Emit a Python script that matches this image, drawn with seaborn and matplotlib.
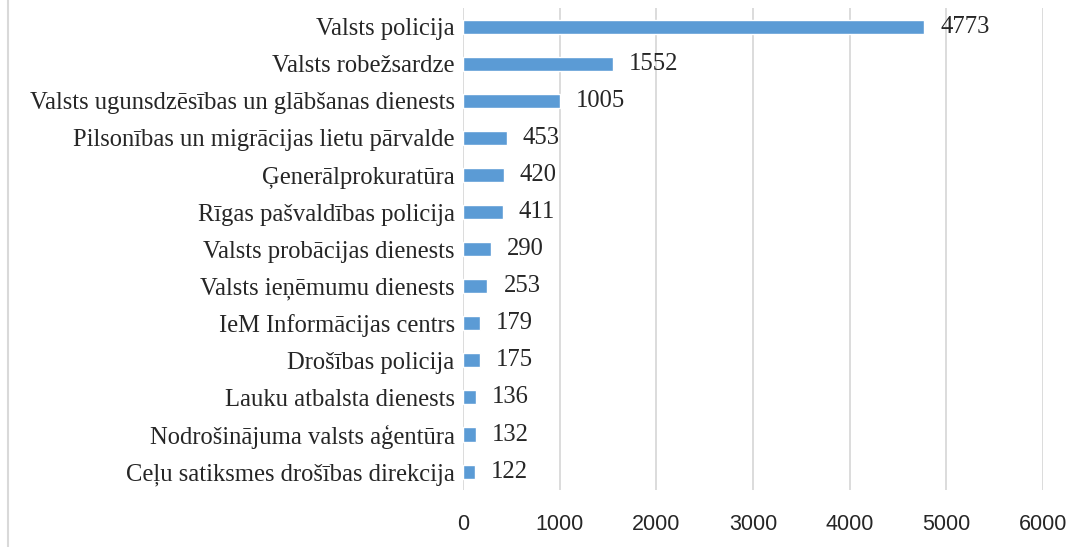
import matplotlib
matplotlib.use('Agg')
import matplotlib.pyplot as plt
from matplotlib.lines import Line2D
import seaborn as sns
import pandas as pd

# dati
iestades = ['Valsts policija', 'Valsts robežsardze',
            'Valsts ugunsdzēsības un glābšanas dienests',
            'Pilsonības un migrācijas lietu pārvalde', 'Ģenerālprokuratūra',
            'Rīgas pašvaldības policija', 'Valsts probācijas dienests',
            'Valsts ieņēmumu dienests', 'IeM Informācijas centrs',
            'Drošības policija', 'Lauku atbalsta dienests',
            'Nodrošinājuma valsts aģentūra', 'Ceļu satiksmes drošības direkcija']
skaits = [4773, 1552, 1005, 453, 420, 411, 290, 253, 179, 175, 136, 132, 122]
x_ticks = [0, 1000, 2000, 3000, 4000, 5000, 6000]

df = pd.DataFrame({'iestade': iestades, 'skaits': skaits})

sns.set_theme(style='white')
plt.rcParams['font.family'] = ['Liberation Serif', 'DejaVu Serif']

fig = plt.figure(figsize=(10.83, 5.47), dpi=100)
ax = fig.add_axes([0.4275, 0.104, 0.5355, 0.881])

sns.barplot(data=df, x='skaits', y='iestade', color='#5B9BD5',
            width=0.38, saturation=1, ax=ax, zorder=3)

ax.set_xlim(0, 6000)
ax.set_ylim(12.5, -0.5)
ax.set_xticks(x_ticks)
ax.set_xticklabels([str(t) for t in x_ticks], family='Liberation Sans', fontsize=15.5)
ax.tick_params(axis='x', length=0, pad=17)
ax.tick_params(axis='y', length=0, labelsize=17.7, pad=6)
ax.xaxis.grid(True, color='#d9d9d9', linewidth=1.3, zorder=0)
ax.set_xlabel('')
ax.set_ylabel('')
for s in ax.spines.values():
    s.set_visible(False)

# vērtības pie stabiņiem
for i, v in enumerate(skaits):
    ax.annotate(str(v), xy=(v, i), xytext=(11.5, 0), textcoords='offset points',
                va='center', ha='left', fontsize=17.7)

# kreisā mala
fig.add_artist(Line2D([0.0075, 0.0075], [0, 1], color='#d9d9d9', linewidth=1.5))

fig.savefig('out.png', dpi=100)
